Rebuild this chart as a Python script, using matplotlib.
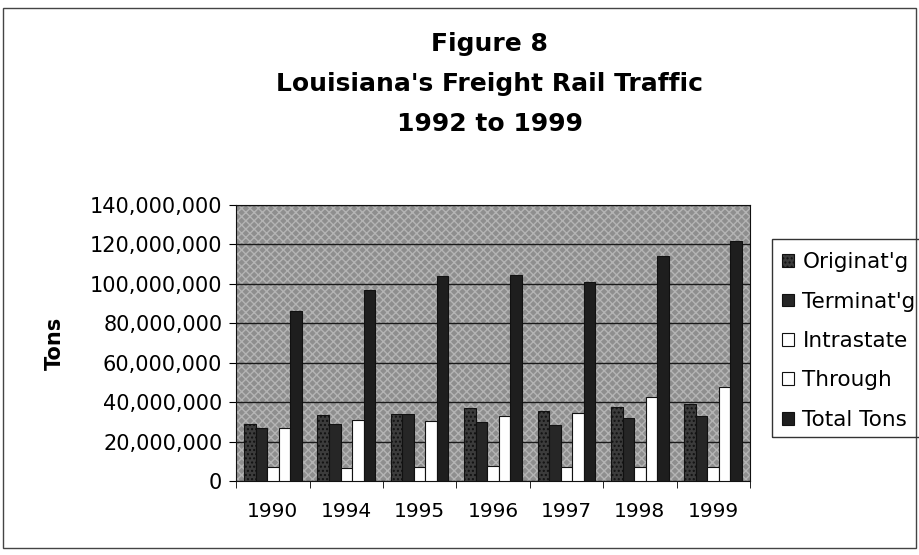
import numpy as np
import matplotlib.pyplot as plt
from matplotlib.patches import Rectangle
from matplotlib.ticker import FuncFormatter

years = ['1990', '1994', '1995', '1996', '1997', '1998', '1999']
originating = [29e6, 33.5e6, 34e6, 37e6, 35.7e6, 37.5e6, 39e6]
terminating = [27e6, 29e6, 34e6, 30e6, 28.4e6, 32e6, 33e6]
intrastate = [7e6, 6.5e6, 7e6, 7.5e6, 7e6, 7e6, 7e6]
through = [27e6, 31e6, 30.5e6, 33e6, 34.5e6, 42.6e6, 47.7e6]
total = [86e6, 97e6, 104e6, 104.5e6, 101e6, 114e6, 121.5e6]

series = [
    ("Originat'g", originating, '#3c3c3c', '....'),
    ("Terminat'g", terminating, '#262626', None),
    ('Intrastate', intrastate, 'white', None),
    ('Through', through, 'white', None),
    ('Total Tons', total, '#1e1e1e', None),
]

fig = plt.figure(figsize=(9.19, 5.55), dpi=100)
fig.patch.set_facecolor('white')
# outer chart border
fig.patches.append(Rectangle((0.003, 0.012), 0.994, 0.974, transform=fig.transFigure,
                             fill=False, edgecolor='#444444', linewidth=1))

ax = fig.add_axes([0.257, 0.133, 0.559, 0.498])
ax.set_facecolor('#8e8e8e')
ax.add_patch(Rectangle((0, 0), 1, 1, transform=ax.transAxes, facecolor='none',
                       edgecolor='#b4b4b4', hatch='xxxx', linewidth=0, zorder=0))

x = np.arange(len(years))
w = 0.157
for i, (name, vals, col, hatch) in enumerate(series):
    ax.bar(x + (i - 2) * w, vals, w, color=col, edgecolor='#111111', linewidth=0.8,
           hatch=hatch, label=name, zorder=3)

ax.set_ylim(0, 140e6)
ax.set_xlim(-0.5, len(years) - 0.5)
ax.set_yticks(np.arange(0, 140e6 + 1, 20e6))
ax.yaxis.set_major_formatter(FuncFormatter(lambda v, p: f'{int(v):,}'))
ax.set_xticks(x)
ax.set_xticklabels(years)
ax.set_xticks(np.arange(-0.5, len(years)), minor=True)
ax.tick_params(axis='x', which='major', length=0, pad=15, labelsize=14.5)
ax.tick_params(axis='x', which='minor', length=5, direction='out')
ax.tick_params(axis='y', length=5, direction='out', labelsize=15, pad=5)
ax.yaxis.grid(True, color='#1a1a1a', linewidth=1)
ax.set_axisbelow(True)
for s in ax.spines.values():
    s.set_color('#111111')

ax.set_ylabel('Tons', fontsize=15, fontweight='bold', labelpad=18)

fig.text(0.533, 0.921, 'Figure 8', ha='center', va='center', fontsize=18, fontweight='bold')
fig.text(0.533, 0.849, "Louisiana's Freight Rail Traffic", ha='center', va='center',
         fontsize=18, fontweight='bold')
fig.text(0.533, 0.777, '1992 to 1999', ha='center', va='center', fontsize=18, fontweight='bold')

# legend box runs off the right edge like in the scan
fig.patches.append(Rectangle((772 / 919, 1 - 437 / 555), 0.3, 198 / 555,
                             transform=fig.transFigure, fill=False,
                             edgecolor='#333333', linewidth=1, clip_on=False))
leg = fig.legend(loc='center left', bbox_to_anchor=(782 / 919, 1 - 341 / 555), frameon=False,
                 fontsize=15.5, handlelength=0.55, handleheight=0.55, handletextpad=0.4,
                 labelspacing=0.9, borderpad=0.0, borderaxespad=0)

plt.savefig('out.png', dpi=100)
